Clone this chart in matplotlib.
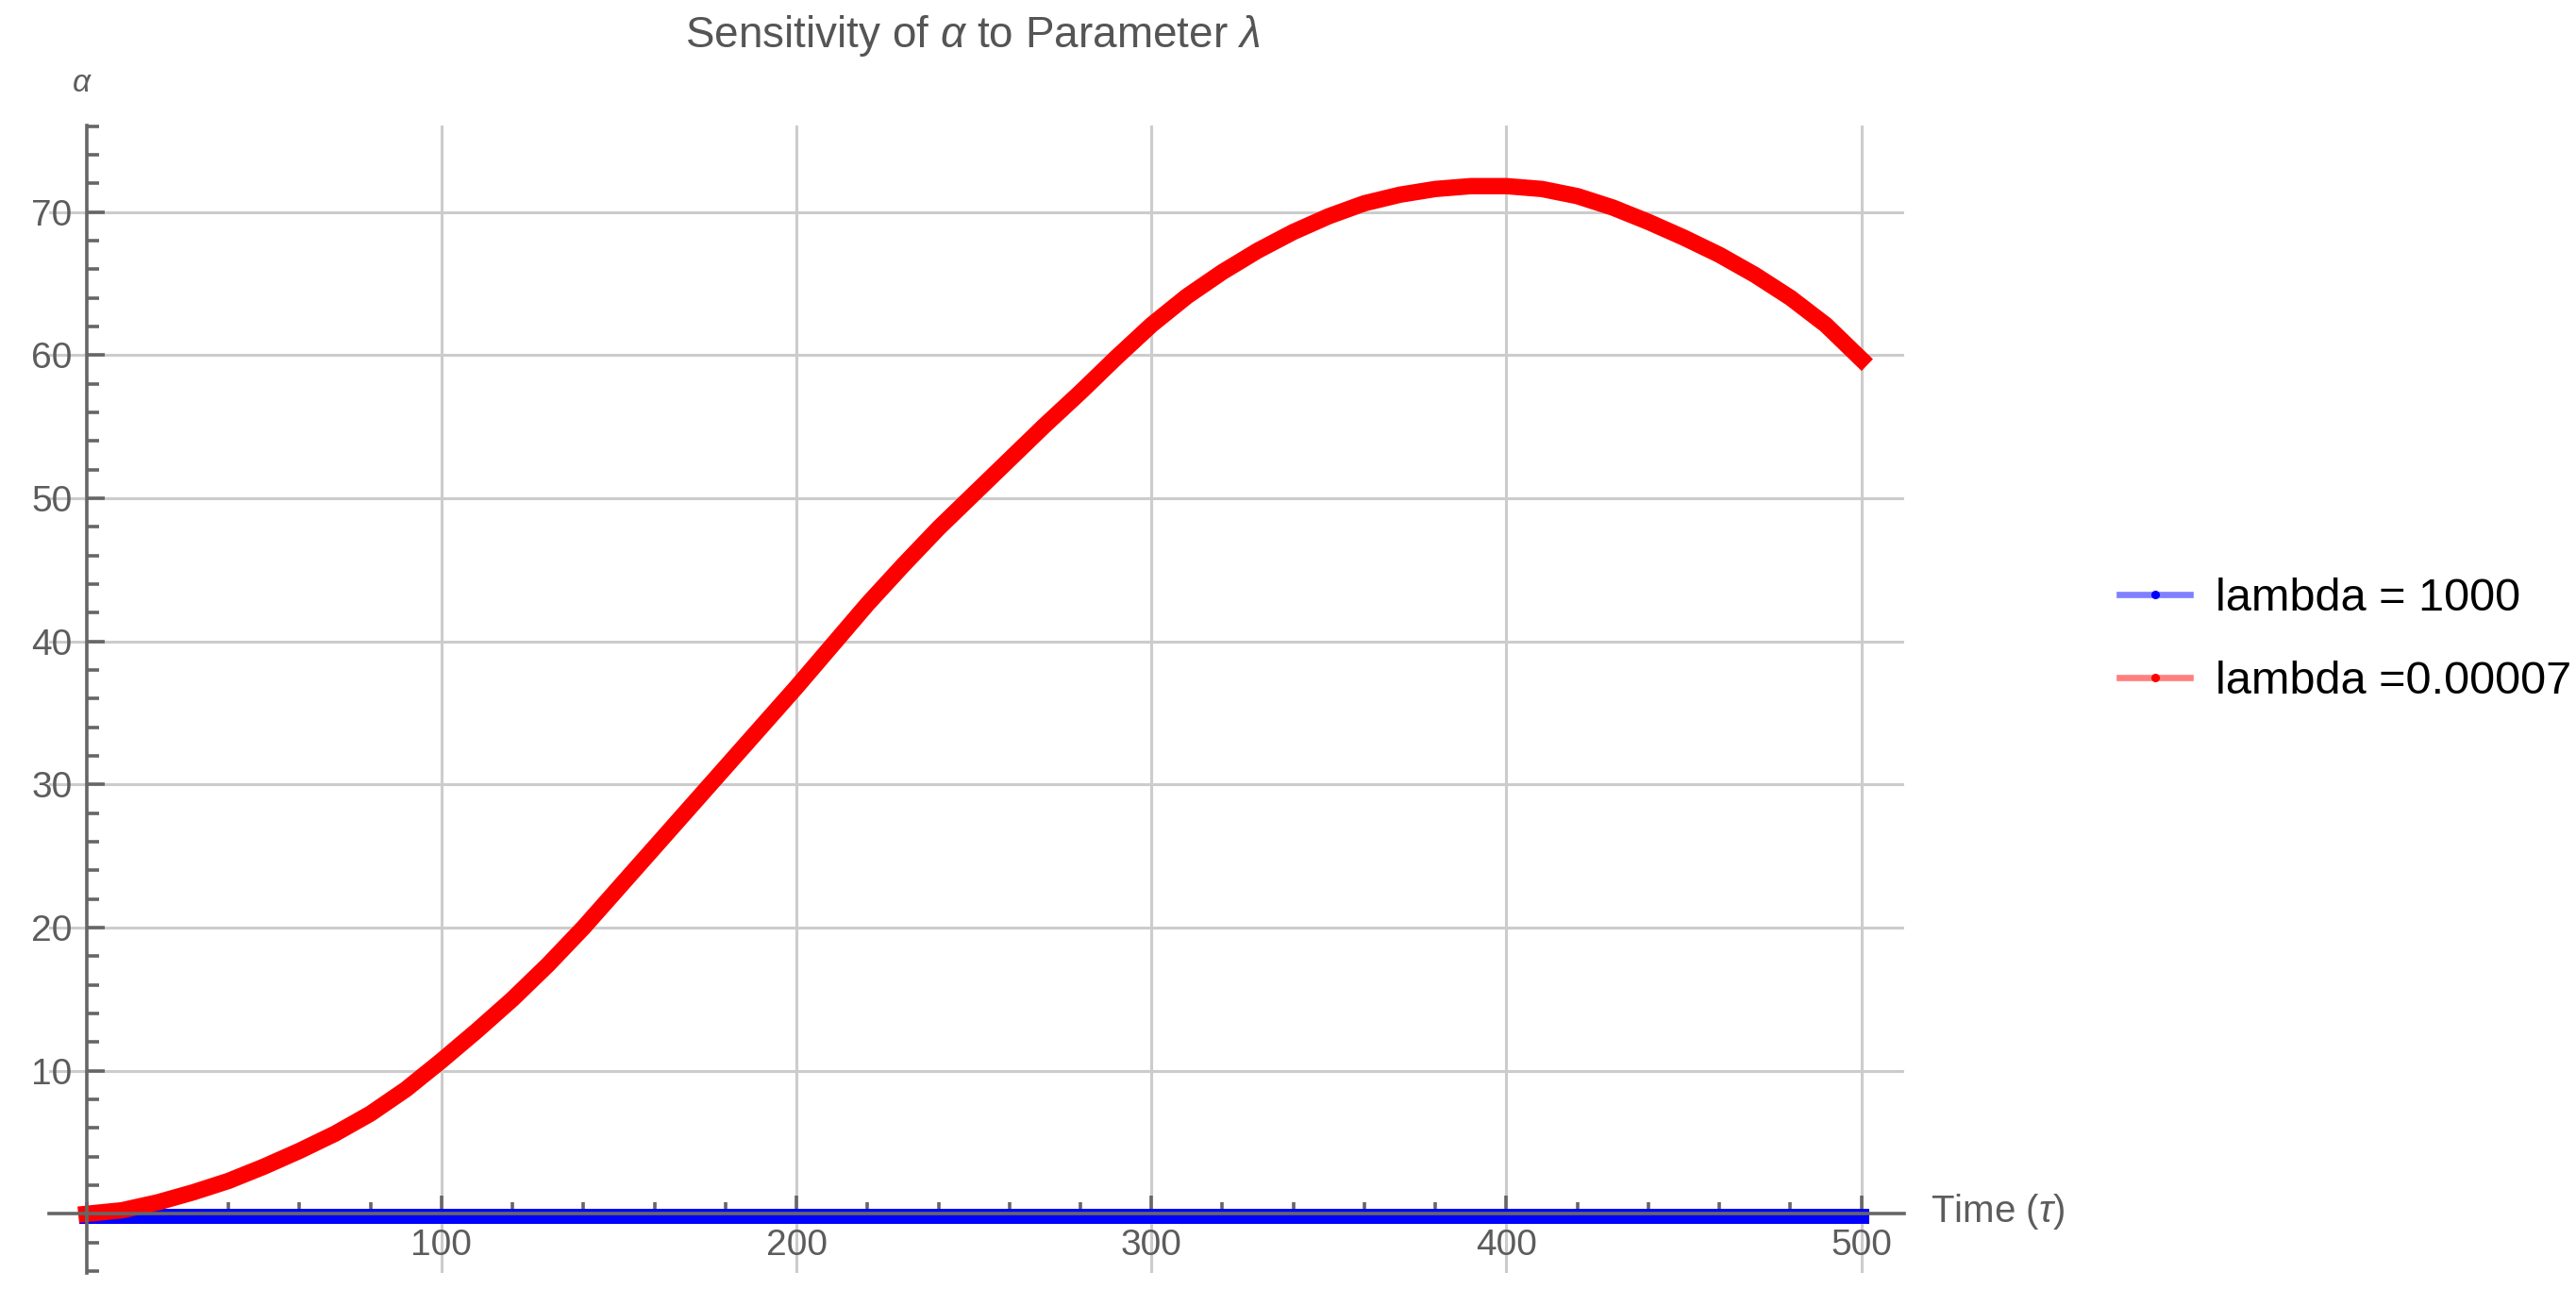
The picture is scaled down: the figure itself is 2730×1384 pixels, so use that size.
import matplotlib
matplotlib.use("Agg")
import matplotlib.pyplot as plt
from matplotlib.lines import Line2D
from matplotlib.ticker import MultipleLocator

plt.rcParams["font.family"] = ["Liberation Sans", "DejaVu Sans"]
plt.rcParams["mathtext.fontset"] = "custom"
plt.rcParams["mathtext.rm"] = "Liberation Sans"
plt.rcParams["mathtext.it"] = "Liberation Sans:italic"

# ---- data ----
time = [0, 10, 20, 30, 40, 50, 60, 70, 80, 90, 100, 110, 120, 130, 140, 150,
        160, 170, 180, 190, 200, 210, 220, 230, 240, 250, 260, 270, 280, 290,
        300, 310, 320, 330, 340, 350, 360, 370, 380, 390, 400, 410, 420, 430,
        440, 450, 460, 470, 480, 490, 500]
alpha_lam_small = [0.0, 0.25, 0.8, 1.5, 2.3, 3.3, 4.4, 5.6, 7.0, 8.7, 10.7,
                   12.8, 15.0, 17.4, 20.0, 22.8, 25.6, 28.4, 31.2, 34.0, 36.8,
                   39.7, 42.6, 45.3, 47.9, 50.3, 52.7, 55.1, 57.4, 59.8, 62.1,
                   64.1, 65.8, 67.3, 68.6, 69.7, 70.6, 71.2, 71.6, 71.8, 71.8,
                   71.6, 71.1, 70.3, 69.3, 68.2, 67.0, 65.6, 64.0, 62.1, 59.7]
alpha_lam_big = [-0.15, -0.15, -0.15, -0.15, -0.15, -0.15, -0.15, -0.15, -0.15,
                 -0.15, -0.15, -0.15, -0.15, -0.15, -0.15, -0.15, -0.15, -0.15,
                 -0.15, -0.15, -0.15, -0.15, -0.15, -0.15, -0.15, -0.15, -0.15,
                 -0.15, -0.15, -0.15, -0.15, -0.15, -0.15, -0.15, -0.15, -0.15,
                 -0.15, -0.15, -0.15, -0.15, -0.15, -0.15, -0.15, -0.15, -0.15,
                 -0.15, -0.15, -0.15, -0.15, -0.15, -0.15]
legend_labels = ["lambda = 1000", "lambda =0.00007"]
x_ticks = [100, 200, 300, 400, 500]
x_tick_labels = ["100", "200", "300", "400", "500"]
y_ticks = [10, 20, 30, 40, 50, 60, 70]
y_tick_labels = ["10", "20", "30", "40", "50", "60", "70"]

title = r"Sensitivity of $\alpha$ to Parameter $\lambda$"
x_label = r"Time ($\tau$)"
y_label = r"$\alpha$"

AX_GRAY = "#666666"
TXT_GRAY = "#5c5c5c"
GRID = "#cccccc"

fig = plt.figure(figsize=(27.3, 13.84), dpi=100)
ax = fig.add_axes([0.01923, 0.02507, 0.7199, 0.8790])
ax.set_xlim(-10.4, 512)
ax.set_ylim(-4.15, 76.05)

for v in x_ticks:
    ax.axvline(v, color=GRID, lw=2.2, zorder=0.5)
for v in y_ticks:
    ax.axhline(v, color=GRID, lw=2.2, zorder=0.5)

ax.plot(time, alpha_lam_big, color="#0000ff", lw=11.5, solid_capstyle="projecting",
        solid_joinstyle="round", zorder=2)
ax.plot(time, alpha_lam_small, color="#ff0000", lw=12.5, solid_capstyle="projecting",
        solid_joinstyle="round", zorder=2.1)

ax.spines["left"].set_position(("data", 0))
ax.spines["bottom"].set_position(("data", 0))
ax.spines["top"].set_visible(False)
ax.spines["right"].set_visible(False)
for s in ("left", "bottom"):
    ax.spines[s].set_color(AX_GRAY)
    ax.spines[s].set_linewidth(2.6)
    ax.spines[s].set_zorder(3)

ax.set_xticks(x_ticks, labels=x_tick_labels)
ax.set_yticks(y_ticks, labels=y_tick_labels)
ax.xaxis.set_minor_locator(MultipleLocator(20))
ax.yaxis.set_minor_locator(MultipleLocator(2))
ax.tick_params(which="major", direction="in", length=14, width=2.6, color=AX_GRAY,
               labelsize=28, labelcolor=TXT_GRAY)
ax.tick_params(which="minor", direction="in", length=9, width=2.6, color=AX_GRAY)
ax.tick_params(axis="x", which="major", pad=11)
ax.tick_params(axis="y", which="major", pad=11)
ax.set_facecolor("none")

fig.text(0.3775, 0.9639, title, ha="center", va="baseline", fontsize=33, color="#555555")
fig.text(0.7495, 0.0643, x_label, ha="left", va="baseline", fontsize=29, color=TXT_GRAY)
fig.text(0.0319, 0.9357, y_label, ha="center", va="center", fontsize=24, color=TXT_GRAY)

h1 = Line2D([], [], color=(0, 0, 1, 0.5), lw=4.8, marker="o", markersize=5.5,
            markerfacecolor="#0000ff", markeredgecolor="#0000ff")
h2 = Line2D([], [], color=(1, 0, 0, 0.5), lw=4.8, marker="o", markersize=5.5,
            markerfacecolor="#ff0000", markeredgecolor="#ff0000")
fig.legend(handles=[h1, h2], labels=legend_labels, loc="center left",
           bbox_to_anchor=(0.8227, 0.5095), frameon=False, fontsize=35,
           handlelength=1.55, handletextpad=0.55, labelspacing=0.88,
           borderpad=0, borderaxespad=0)

fig.savefig("out.png", dpi=100, facecolor="white")
